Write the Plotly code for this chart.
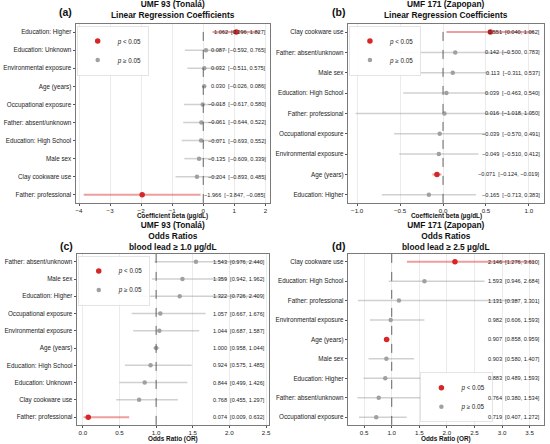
import plotly.graph_objects as go

# panel (a): UMF 93 linear regression
a_labels = ["Education: Higher", "Education: Unknown", "Environmental exposure", "Age (years)",
            "Occupational exposure", "Father: absent/unknown", "Education: High School",
            "Male sex", "Clay cookware use", "Father: professional"]
a_est = [1.062, 0.087, 0.032, 0.030, -0.018, -0.061, -0.071, -0.135, -0.204, -1.966]
a_lo = [0.296, -0.592, -0.511, -0.026, -0.617, -0.644, -0.693, -0.609, -0.893, -3.847]
a_hi = [1.827, 0.765, 0.575, 0.086, 0.580, 0.522, 0.552, 0.339, 0.485, -0.085]
a_sig = [True, False, False, False, False, False, False, False, False, True]

# panel (b): UMF 171 linear regression
b_labels = ["Clay cookware use", "Father: absent/unknown", "Male sex", "Education: High School",
            "Father: professional", "Occupational exposure", "Environmental exposure",
            "Age (years)", "Education: Higher"]
b_est = [0.551, 0.142, 0.113, 0.039, 0.016, -0.039, -0.049, -0.071, -0.165]
b_lo = [0.040, -0.500, -0.311, -0.463, -1.018, -0.570, -0.510, -0.124, -0.713]
b_hi = [1.062, 0.783, 0.537, 0.540, 1.050, 0.491, 0.412, -0.019, 0.383]
b_sig = [True, False, False, False, False, False, False, True, False]

# panel (c): UMF 93 odds ratios
c_labels = ["Father: absent/unknown", "Male sex", "Education: Higher", "Occupational exposure",
            "Environmental exposure", "Age (years)", "Education: High School",
            "Education: Unknown", "Clay cookware use", "Father: professional"]
c_est = [1.543, 1.359, 1.322, 1.057, 1.044, 1.000, 0.924, 0.844, 0.768, 0.074]
c_lo = [0.976, 0.942, 0.726, 0.667, 0.687, 0.958, 0.575, 0.499, 0.455, 0.009]
c_hi = [2.440, 1.962, 2.409, 1.676, 1.587, 1.044, 1.485, 1.426, 1.297, 0.632]
c_sig = [False, False, False, False, False, False, False, False, False, True]

# panel (d): UMF 171 odds ratios
d_labels = ["Clay cookware use", "Education: High School", "Father: professional",
            "Environmental exposure", "Age (years)", "Male sex", "Education: Higher",
            "Father: absent/unknown", "Occupational exposure"]
d_est = [2.146, 1.593, 1.131, 0.982, 0.907, 0.903, 0.883, 0.764, 0.719]
d_lo = [1.276, 0.946, 0.387, 0.606, 0.858, 0.580, 0.489, 0.380, 0.407]
d_hi = [3.610, 2.684, 3.301, 1.593, 0.959, 1.407, 1.593, 1.534, 1.272]
d_sig = [True, False, False, False, True, False, False, False, False]

FONT = "Liberation Sans, Arial, sans-serif"
RED = "#d62728"
GREY = "#a0a0a0"
H = 444

panels = [
    dict(letter="(a)", title="UMF 93 (Tonalá)<br>Linear Regression Coefficients",
         labels=a_labels, est=a_est, lo=a_lo, hi=a_hi, sig=a_sig, ref=0,
         xrange=[-4.1, 2.15], ticks=[-4, -3, -2, -1, 0, 1, 2], fmt="d",
         xtitle="Coefficient beta (µg/dL)",
         xd=[0.138, 0.491], yd=[0.543, 0.946], leg=(0.005, 0.99, "top")),
    dict(letter="(b)", title="UMF 171 (Zapopan)<br>Linear Regression Coefficients",
         labels=b_labels, est=b_est, lo=b_lo, hi=b_hi, sig=b_sig, ref=0,
         xrange=[-1.105, 1.175], ticks=[-1.0, -0.5, 0.0, 0.5, 1.0], fmt=".1f",
         xtitle="Coefficient beta (µg/dL)",
         xd=[0.633, 0.989], yd=[0.543, 0.946], leg=(0.005, 0.99, "top")),
    dict(letter="(c)", title="UMF 93 (Tonalá)<br>Odds Ratios<br>blood lead ≥ 1.0 µg/dL",
         labels=c_labels, est=c_est, lo=c_lo, hi=c_hi, sig=c_sig, ref=1,
         xrange=[-0.08, 2.54], ticks=[0.0, 0.5, 1.0, 1.5, 2.0, 2.5], fmt=".1f",
         xtitle="Odds Ratio (OR)",
         xd=[0.14, 0.489], yd=[0.043, 0.428], leg=(0.005, 0.99, "top")),
    dict(letter="(d)", title="UMF 171 (Zapopan)<br>Odds Ratios<br>blood lead ≥ 2.5 µg/dL",
         labels=d_labels, est=d_est, lo=d_lo, hi=d_hi, sig=d_sig, ref=1,
         xrange=[0.21, 3.76], ticks=[0.5, 1.0, 1.5, 2.0, 2.5, 3.0, 3.5], fmt=".1f",
         xtitle="Odds Ratio (OR)",
         xd=[0.633, 0.989], yd=[0.043, 0.428], leg=(0.37, 0.015, "bottom")),
]

fig = go.Figure()
layout = {}
annotations = []
shapes = []

for i, p in enumerate(panels):
    n = i + 1
    xa = "x" if n == 1 else f"x{n}"
    ya = "y" if n == 1 else f"y{n}"
    leg = "legend" if n == 1 else f"legend{n}"
    rows = len(p["labels"])

    for sig_flag, name, col, ebc, size, thick in [
        (True, "<i>p</i> < 0.05", RED, "rgba(214,39,40,0.45)", 5.5, 2),
        (False, "<i>p</i> ≥ 0.05", GREY, "rgba(150,150,150,0.45)", 4.5, 1.5),
    ]:
        idx = [k for k in range(rows) if p["sig"][k] == sig_flag]
        fig.add_trace(go.Scatter(
            x=[p["est"][k] for k in idx],
            y=[p["labels"][k] for k in idx],
            mode="markers",
            name=name,
            marker=dict(color=col, size=size),
            error_x=dict(type="data", symmetric=False,
                         array=[p["hi"][k] - p["est"][k] for k in idx],
                         arrayminus=[p["est"][k] - p["lo"][k] for k in idx],
                         color=ebc, thickness=thick, width=0),
            xaxis=xa, yaxis=ya, legend=leg, showlegend=True,
        ))

    if p["fmt"] == "d":
        ticktext = [str(int(t)).replace("-", "−") for t in p["ticks"]]
    else:
        ticktext = [f"{t:{p['fmt']}}".replace("-", "−") for t in p["ticks"]]

    pad = 0.05 * (rows - 1)
    layout[f"xaxis{'' if n == 1 else n}"] = dict(
        domain=p["xd"], anchor=ya, range=p["xrange"], tickvals=p["ticks"], ticktext=ticktext,
        automargin=False,
        showgrid=True, gridcolor="#ebebeb", gridwidth=0.8, zeroline=False,
        showline=True, linecolor="#7a7a7a", linewidth=0.8, mirror=True,
        ticks="outside", ticklen=2, tickcolor="#555", tickfont=dict(size=6.2, color="#222"),
    )
    layout[f"yaxis{'' if n == 1 else n}"] = dict(
        domain=p["yd"], anchor=xa, type="category", categoryorder="array",
        categoryarray=p["labels"], range=[rows - 1 + pad, -pad],
        automargin=False,
        showgrid=False, zeroline=False,
        showline=True, linecolor="#7a7a7a", linewidth=0.8, mirror=True,
        ticks="outside", ticklen=2.5, tickcolor="#555", tickfont=dict(size=6.3, color="#222"),
    )
    lx = p["xd"][0] + p["leg"][0] * (p["xd"][1] - p["xd"][0])
    ly = p["yd"][0] + p["leg"][1] * (p["yd"][1] - p["yd"][0])
    layout[leg] = dict(x=lx, y=ly, xanchor="left", yanchor=p["leg"][2],
                       xref="paper", yref="paper",
                       bgcolor="rgba(255,255,255,0.9)", bordercolor="#dddddd", borderwidth=0.8,
                       font=dict(size=6.3, family=FONT, color="#222"), itemwidth=30,
                       tracegroupgap=0, orientation="v")

    shapes.append(dict(type="line", xref=xa, yref=f"{ya} domain", x0=p["ref"], x1=p["ref"],
                       y0=0, y1=1, line=dict(color="#555555", width=0.9, dash="dash")))

    for k in range(rows):
        txt = f"{p['est'][k]:.3f}  [{p['lo'][k]:.3f}, {p['hi'][k]:.3f}]".replace("-", "−")
        annotations.append(dict(xref=f"{xa} domain", yref=ya, x=0.99, y=k, text=txt,
                                showarrow=False, xanchor="right", yanchor="middle",
                                font=dict(size=5.6, color="#222", family=FONT)))

    cx = (p["xd"][0] + p["xd"][1]) / 2
    # x-axis title, set just under the tick labels
    xt_off = 13.5 if n <= 2 else 14
    annotations.append(dict(xref=f"{xa} domain", yref="paper", x=0.5, y=p["yd"][0] - xt_off / H,
                            text=f"<b>{p['xtitle']}</b>", showarrow=False,
                            xanchor="center", yanchor="middle",
                            font=dict(size=6.4, color="#111", family=FONT)))
    t_off = 0.004 if n <= 2 else 0.0
    annotations.append(dict(xref="paper", yref="paper", x=cx, y=p["yd"][1] + t_off,
                            text=f"<b>{p['title']}</b>", showarrow=False,
                            xanchor="center", yanchor="bottom",
                            font=dict(size=8.4, color="#111", family=FONT)))
    lett_y = p["yd"][1] + (0.027 if n <= 2 else 0.018)
    annotations.append(dict(xref="paper", yref="paper", x=p["xd"][0] - 0.003, y=lett_y,
                            text=f"<b>{p['letter']}</b>", showarrow=False,
                            xanchor="right", yanchor="middle",
                            font=dict(size=10.5, color="#111", family=FONT)))

fig.update_layout(
    width=550, height=H,
    margin=dict(l=0, r=0, t=0, b=0),
    paper_bgcolor="white", plot_bgcolor="white",
    font=dict(family=FONT, color="#222"),
    annotations=annotations, shapes=shapes,
    **layout,
)

# the page body has a default 8px margin; drop it so the 550x444 figure fits the window
fig.write_html("out.html", config={"displayModeBar": False},
               post_script="document.body.style.margin='0px';")
